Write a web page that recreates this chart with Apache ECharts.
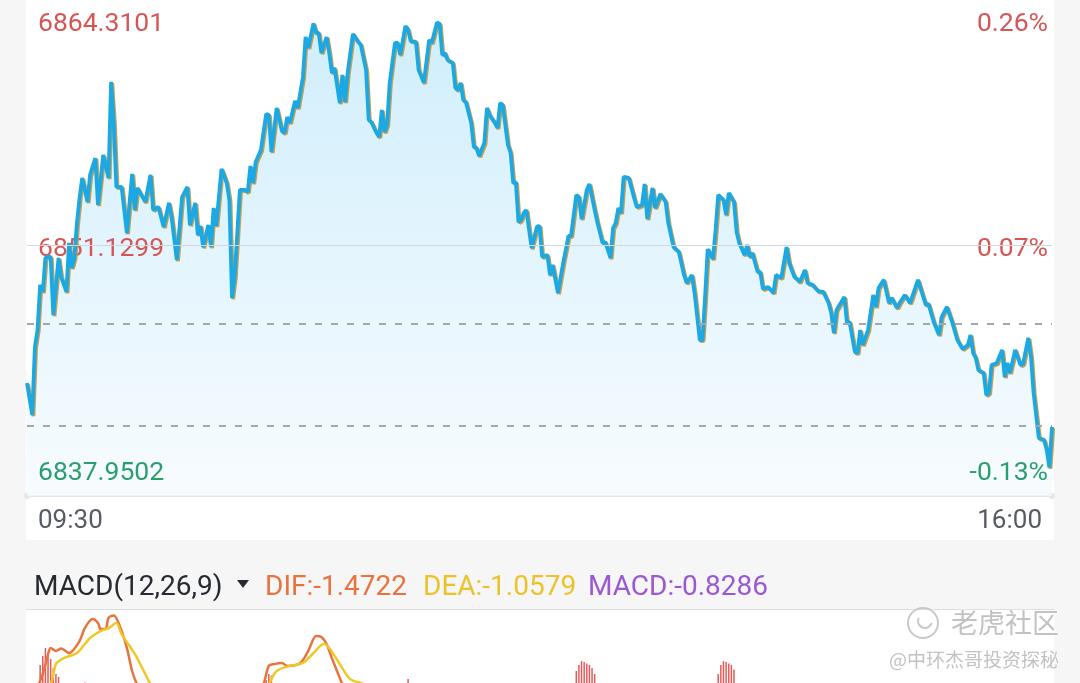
<!DOCTYPE html>
<html>
<head>
<meta charset="utf-8">
<script src="https://cdn.jsdelivr.net/npm/echarts@6/dist/echarts.min.js"></script>
<style>
    html, body { margin: 0; padding: 0; background: #f6f6f6; }
    #chart { width: 1080px; height: 683px; }
</style>
</head>
<body>
<div id="chart"></div>
<script>
    // minutes since 09:30 and index level
    const minutes = [0, 2, 3, 4, 5, 6, 7, 8, 9, 10, 12, 13, 15, 16, 17, 18, 19, 20, 21, 23, 24, 26, 27, 29, 31, 32, 33, 34, 36, 38,
        40, 41, 42, 45, 47, 48, 50, 52, 54, 55, 57, 59, 61, 62, 64, 65, 66, 67, 69, 70, 71, 72, 74, 76, 77, 78, 79, 81, 83, 84,
        85, 86, 87, 89, 91, 92, 93, 95, 97, 98, 99, 100, 102, 103, 105, 106, 107, 109, 110, 111, 112, 114, 115, 116, 117, 119, 120, 121, 122, 124,
        126, 127, 129, 130, 131, 133, 134, 135, 136, 137, 138, 140, 141, 142, 144, 145, 146, 148, 149, 151, 153, 154, 156, 157, 158, 159, 160, 162, 163, 164,
        165, 166, 167, 169, 170, 171, 172, 174, 175, 176, 178, 179, 180, 181, 183, 184, 185, 186, 187, 188, 189, 190, 192, 194, 195, 196, 198, 199, 200, 202,
        204, 206, 207, 209, 210, 211, 213, 214, 216, 217, 219, 220, 222, 223, 224, 225, 226, 227, 229, 231, 232, 234, 235, 236, 238, 239, 241, 243, 244, 246,
        248, 250, 251, 253, 254, 256, 257, 258, 259, 261, 262, 263, 265, 266, 267, 269, 270, 271, 273, 274, 275, 276, 278, 279, 280, 282, 284, 285, 287, 289,
        290, 292, 293, 294, 296, 297, 299, 301, 303, 305, 306, 307, 308, 311, 312, 313, 315, 316, 317, 318, 320, 322, 323, 324, 326, 328, 329, 331, 332, 334,
        336, 339, 341, 342, 343, 345, 347, 348, 350, 352, 354, 356, 358, 359, 360, 361, 362, 364, 365, 366, 367, 369, 371, 372, 373, 374, 376, 378, 379, 381,
        382, 383, 385, 387, 388, 389, 390];
    const prices = [6842.95, 6841.06, 6845.09, 6846.09, 6848.76, 6848.35, 6850.36, 6850.42, 6850.42, 6846.98, 6850.36, 6849.23, 6848.35, 6851.25, 6849.77, 6850.36, 6852.43, 6853.91, 6855.10, 6853.68, 6855.28, 6856.28, 6853.50, 6856.46, 6855.10, 6860.79, 6858.36, 6854.57, 6854.57, 6851.84,
        6855.34, 6853.20, 6854.51, 6853.68, 6855.28, 6853.20, 6853.38, 6852.20, 6853.62, 6852.79, 6850.24, 6853.97, 6854.57, 6852.31, 6853.62, 6851.72, 6852.26, 6851.01, 6852.31, 6851.01, 6853.32, 6852.26, 6855.63, 6854.80, 6853.80, 6847.99, 6849.23, 6854.39, 6854.39, 6854.27,
        6855.81, 6854.80, 6856.05, 6856.76, 6858.89, 6858.83, 6856.64, 6859.25, 6857.88, 6857.76, 6858.71, 6858.36, 6859.66, 6859.25, 6861.08, 6863.45, 6862.80, 6864.25, 6863.69, 6863.69, 6862.50, 6863.45, 6862.50, 6861.32, 6861.62, 6859.54, 6861.20, 6859.60, 6861.32, 6863.63,
        6863.16, 6862.98, 6861.50, 6858.54, 6858.42, 6857.76, 6857.53, 6859.13, 6857.82, 6858.24, 6860.73, 6863.10, 6863.10, 6862.39, 6864.10, 6863.87, 6863.21, 6863.16, 6861.50, 6860.73, 6863.27, 6863.10, 6864.31, 6864.22, 6862.39, 6862.50, 6862.09, 6861.91, 6860.43, 6860.31,
        6860.73, 6859.72, 6859.60, 6858.36, 6856.94, 6856.88, 6856.40, 6857.17, 6859.25, 6858.83, 6858.36, 6858.06, 6859.54, 6859.42, 6857.05, 6856.58, 6854.80, 6854.86, 6852.49, 6852.61, 6853.03, 6853.20, 6850.95, 6852.20, 6852.26, 6850.42, 6850.54, 6849.35, 6849.95, 6848.29,
        6850.06, 6851.66, 6851.66, 6854.09, 6853.97, 6852.67, 6854.39, 6854.74, 6853.20, 6852.49, 6851.25, 6851.31, 6850.36, 6852.14, 6852.43, 6853.32, 6853.03, 6855.16, 6855.10, 6853.91, 6853.38, 6853.50, 6854.74, 6852.67, 6854.51, 6853.32, 6854.15, 6853.68, 6852.43, 6851.01,
        6850.72, 6849.35, 6848.88, 6849.35, 6848.29, 6845.50, 6845.50, 6848.05, 6850.89, 6850.30, 6852.02, 6854.09, 6853.80, 6852.91, 6854.21, 6853.68, 6851.90, 6851.25, 6850.54, 6851.13, 6850.42, 6850.66, 6849.53, 6849.53, 6848.52, 6848.64, 6848.29, 6849.35, 6849.18, 6851.01,
        6850.06, 6849.23, 6849.12, 6848.94, 6849.65, 6848.88, 6848.76, 6848.40, 6848.35, 6847.69, 6847.10, 6845.92, 6847.28, 6848.05, 6846.51, 6846.57, 6844.79, 6844.73, 6846.09, 6845.21, 6846.09, 6848.17, 6847.46, 6848.58, 6849.06, 6847.69, 6847.99, 6847.40, 6847.69, 6848.17,
        6847.69, 6849.06, 6848.05, 6847.58, 6847.64, 6846.57, 6845.80, 6846.86, 6847.46, 6846.57, 6845.50, 6844.97, 6845.21, 6845.80, 6844.73, 6844.44, 6843.72, 6843.55, 6842.24, 6842.36, 6844.02, 6844.14, 6844.91, 6843.31, 6844.14, 6843.55, 6844.91, 6844.02, 6844.08, 6845.62,
        6844.50, 6842.36, 6839.70, 6839.58, 6838.99, 6837.95, 6840.35];

    // price axis labels and their percent labels
    const priceTicks = [6864.3101, 6851.1299, 6837.9502];
    const pctLabels = ['0.26%', '0.07%', '-0.13%'];
    const tickColors = ['#d65656', '#d65656', '#2a9f6c'];
    const prevClose = 6846.45;
    const lowRef = 6840.41;
    const timeTicks = [0, 390];
    const timeLabels = ['09:30', '16:00'];

    // MACD panel (only the top of it is visible)
    const difMin = [0, 3, 6, 8, 9, 11, 13, 16, 20, 22, 25, 27, 28, 30, 31, 33, 35, 38, 40, 42, 47, 52, 59, 67, 75, 81, 85, 88, 90, 92,
        94, 97, 99, 104, 107, 110, 112, 114, 116, 119, 120, 124, 132, 140, 150, 160, 170, 180, 190, 200, 205, 212, 220, 230, 240, 250, 256, 262, 268, 275,
        285, 295, 305, 315, 325, 335, 345, 355, 365, 375, 382, 386, 390];
    const difVal = [0, 0.3, 0.9, 1.55, 1.77, 1.67, 1.75, 1.6, 2.0, 2.43, 2.73, 2.6, 2.4, 2.42, 2.77, 2.85, 2.57, 1.77, 1.0, 0.55, 0.0, -0.3, -0.5, -0.3, -0.1, -0.2, 0.1, 0.35, 0.57, 1.17,
        1.23, 1.27, 1.17, 1.27, 1.67, 2.17, 2.13, 1.9, 1.43, 0.77, 0.57, 0.1, -0.3, 0.0, 0.2, 0.1, -0.5, -0.6, -1.3, -1.8, -1.6, -1.1, -1.0, -0.8, -0.6, -0.9, -1.5, -1.1, -0.6, -0.7,
        -0.9, -0.9, -1.0, -1.4, -1.2, -1.0, -1.1, -1.3, -1.6, -1.4, -1.2, -1.5, -1.4722];
    const deaMin = [0, 4, 9, 11, 14, 19, 24, 28, 31, 34, 36, 41, 45, 47, 52, 62, 72, 83, 89, 92, 95, 100, 105, 109, 113, 115, 119, 123, 128, 134,
        140, 150, 160, 170, 180, 190, 200, 210, 220, 230, 240, 250, 258, 265, 272, 280, 290, 300, 310, 320, 330, 340, 350, 360, 370, 380, 390];
    const deaVal = [0, 0.2, 0.57, 1.23, 1.43, 1.6, 2.1, 2.33, 2.43, 2.6, 2.23, 1.57, 0.9, 0.57, 0.1, -0.2, -0.25, -0.15, 0.2, 0.57, 1.0, 1.17, 1.27, 1.6, 1.9, 1.77, 1.23, 0.73, 0.57, 0.3,
        0.15, 0.15, 0.1, -0.2, -0.45, -0.8, -1.3, -1.4, -1.2, -1.0, -0.8, -0.8, -1.1, -1.0, -0.8, -0.75, -0.85, -0.9, -1.0, -1.2, -1.15, -1.05, -1.1, -1.2, -1.4, -1.35, -1.0579];
    const histMin = [5, 6, 7, 8, 9, 10, 11, 12, 21, 22, 23, 31, 34, 91, 92, 93, 94, 104, 110, 145, 155, 190, 200, 209, 210, 211, 212, 213, 214, 215,
        216, 256, 263, 264, 265, 266, 267, 268, 269, 300, 315, 386, 390];
    const histVal = [1.2, 1.5, 1.77, 1.6, 1.4, 1.1, 0.9, 0.8, 0.5, 0.62, 0.55, 0.5, 0.4, 0.7, 0.9, 0.85, 0.6, 0.2, 0.5, 0.73, 0.1, -0.9, -1.0, 1.0, 1.2, 1.33, 1.3, 1.25, 1.2, 1.1,
        0.9, -0.8, 0.9, 1.2, 1.33, 1.3, 1.25, 1.2, 1.05, -0.2, -0.4, -0.9, -0.8286];

    const priceData = minutes.map((m, i) => [m, prices[i]]);
    const difData = difMin.map((m, i) => [m, difVal[i]]);
    const deaData = deaMin.map((m, i) => [m, deaVal[i]]);
    const histData = histMin.map((m, i) => [m, histVal[i]]);

    const font = 'Roboto';

    // the axis hands label values over as strings sometimes
    function tickIndex(v) {
        const n = Number(v);
        let best = 0;
        priceTicks.forEach((t, i) => {
            if (Math.abs(t - n) < Math.abs(priceTicks[best] - n)) best = i;
        });
        return best;
    }

    // labels sit a little below their values in the original
    const tickRich = {};
    [4, 8, 12].forEach((pad, i) => {
        tickRich['t' + i] = {color: tickColors[i], fontSize: 26.5, fontFamily: font, padding: [pad, 0, 0, 0]};
    });

    const chart = echarts.init(document.getElementById('chart'));
    chart.setOption({
        backgroundColor: '#f6f6f6',
        animation: false,
        graphic: [
            {type: 'rect', z: -10, shape: {x: 26, y: 0, width: 1028, height: 540}, style: {fill: '#ffffff'}},
            {type: 'rect', z: -10, shape: {x: 26, y: 610, width: 1028, height: 80}, style: {fill: '#ffffff'}},
            {type: 'line', z: -9, shape: {x1: 26, y1: 609.5, x2: 1054, y2: 609.5}, style: {stroke: '#dedede', lineWidth: 1}},
            {type: 'text', x: 34, y: 588, style: {text: 'MACD(12,26,9)', fill: '#262a31', font: '28px ' + font, verticalAlign: 'middle'}},
            {type: 'polygon', shape: {points: [[237, 580], [249, 580], [243, 588]]}, style: {fill: '#262a31'}},
            {type: 'text', x: 265, y: 588, style: {text: 'DIF:-1.4722', fill: '#e8733c', font: '28px ' + font, verticalAlign: 'middle'}},
            {type: 'text', x: 423, y: 588, style: {text: 'DEA:-1.0579', fill: '#ebc22a', font: '28px ' + font, verticalAlign: 'middle'}},
            {type: 'text', x: 588, y: 588, style: {text: 'MACD:-0.8286', fill: '#9a58d2', font: '28px ' + font, verticalAlign: 'middle'}},
            // watermark
            {type: 'circle', z: 50, shape: {cx: 923, cy: 623, r: 15}, style: {fill: 'none', stroke: '#c8c8c8', lineWidth: 2}},
            {type: 'arc', z: 50, shape: {cx: 925, cy: 621, r: 7, startAngle: 0.3, endAngle: 3.6}, style: {fill: 'none', stroke: '#c8c8c8', lineWidth: 2}},
            {type: 'text', z: 50, x: 951, y: 623, style: {text: '老虎社区', fill: '#c2c2c2', font: '27px "Noto Sans CJK SC"', verticalAlign: 'middle', stroke: '#ffffff', lineWidth: 1}},
            {type: 'text', z: 50, x: 1059, y: 660, style: {text: '@中环杰哥投资探秘', fill: '#c2c2c2', font: '19px "Noto Sans CJK SC"', align: 'right', verticalAlign: 'middle', stroke: '#ffffff', lineWidth: 1}}
        ],
        grid: [
            {left: 27, top: 0, width: 1025, height: 496},
            {left: 27, top: 611, width: 1025, height: 72}
        ],
        xAxis: [
            {
                type: 'value', gridIndex: 0, min: 0, max: 390,
                axisLine: {show: true, symbol: ['circle', 'circle'], symbolSize: [6, 6], lineStyle: {color: '#e3e6ea', width: 2}},
                axisTick: {show: false},
                splitLine: {show: false},
                axisLabel: {
                    customValues: timeTicks,
                    alignMinLabel: 'left',
                    alignMaxLabel: 'right',
                    padding: [0, 10, 0, 11],
                    margin: 12,
                    color: '#565b64',
                    fontSize: 26,
                    fontFamily: font,
                    formatter: v => timeLabels[timeTicks.indexOf(Number(v))]
                }
            },
            {type: 'value', gridIndex: 1, min: 0, max: 390, show: false}
        ],
        yAxis: [
            {
                type: 'value', gridIndex: 0, min: 6836.26, max: 6865.64, z: 2,
                axisLine: {show: false}, axisTick: {show: false}, splitLine: {show: false},
                axisLabel: {
                    inside: true,
                    margin: 11,
                    customValues: priceTicks,
                    formatter: v => {
                        const i = tickIndex(v);
                        return '{t' + i + '|' + priceTicks[i].toFixed(4) + '}';
                    },
                    rich: tickRich
                }
            },
            {
                type: 'value', gridIndex: 0, min: 6836.26, max: 6865.64, position: 'right', z: 2,
                axisLine: {show: false}, axisTick: {show: false}, splitLine: {show: false},
                axisLabel: {
                    inside: true,
                    margin: 4,
                    customValues: priceTicks,
                    formatter: v => {
                        const i = tickIndex(v);
                        return '{t' + i + '|' + pctLabels[i] + '}';
                    },
                    rich: tickRich
                }
            },
            {type: 'value', gridIndex: 1, min: 0.6, max: 3, show: false}
        ],
        series: [
            {
                // area under the price line
                type: 'line', xAxisIndex: 0, yAxisIndex: 0, z: 1,
                data: priceData, showSymbol: false, silent: true,
                lineStyle: {width: 0},
                areaStyle: {
                    origin: 'start',
                    color: new echarts.graphic.LinearGradient(0, 0, 0, 1, [
                        {offset: 0, color: '#bce7fb'},
                        {offset: 1, color: '#f4fafe'}
                    ])
                }
            },
            {
                // reference lines
                type: 'line', xAxisIndex: 0, yAxisIndex: 0, z: 2, data: [],
                markLine: {
                    silent: true, symbol: 'none', label: {show: false},
                    data: [
                        {yAxis: priceTicks[1], lineStyle: {color: '#d3d7dc', width: 1, type: 'solid'}},
                        {yAxis: prevClose, lineStyle: {color: '#a2a7b0', width: 2, type: [7, 9]}},
                        {yAxis: lowRef, lineStyle: {color: '#a2a7b0', width: 2, type: [7, 9]}}
                    ]
                }
            },
            {
                type: 'line', xAxisIndex: 0, yAxisIndex: 0, z: 3,
                data: priceData, showSymbol: false,
                lineStyle: {
                    color: '#1aa9e4', width: 3.8,
                    shadowColor: 'rgba(196,150,60,0.9)', shadowOffsetX: 1.2, shadowOffsetY: 1.2, shadowBlur: 0
                }
            },
            {
                type: 'bar', xAxisIndex: 1, yAxisIndex: 2,
                data: histData, barWidth: 1.5,
                itemStyle: {color: p => p.value[1] >= 0 ? '#e55a5a' : '#2a9f6c'}
            },
            {
                type: 'line', xAxisIndex: 1, yAxisIndex: 2,
                data: difData, showSymbol: false, smooth: 0.3,
                lineStyle: {color: '#e8733c', width: 2.5}
            },
            {
                type: 'line', xAxisIndex: 1, yAxisIndex: 2,
                data: deaData, showSymbol: false, smooth: 0.3,
                lineStyle: {color: '#efc828', width: 2.5}
            }
        ]
    });
</script>
</body>
</html>
